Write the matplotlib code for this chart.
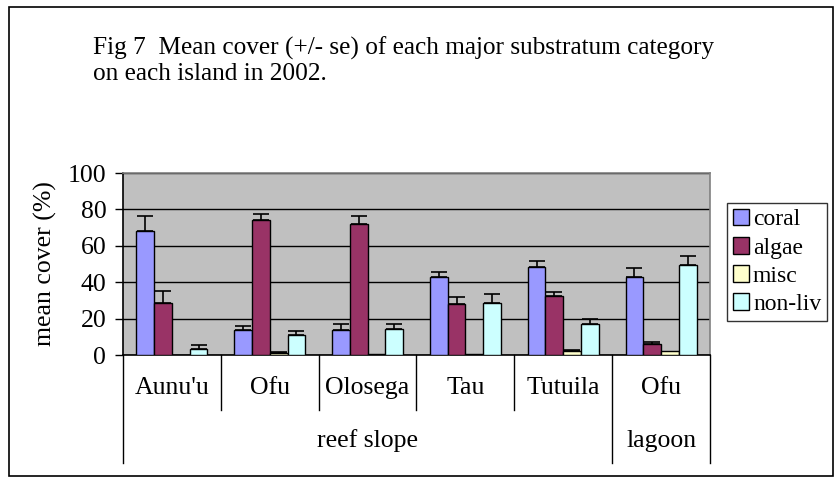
import matplotlib
matplotlib.use("Agg")
import matplotlib.pyplot as plt
from matplotlib.patches import Rectangle
from matplotlib.lines import Line2D
import matplotlib.transforms as mtransforms
import numpy as np

plt.rcParams['font.family'] = ['Liberation Serif', 'DejaVu Serif']

islands = ["Aunu'u", "Ofu", "Olosega", "Tau", "Tutuila", "Ofu"]
habitats = ["reef slope", "lagoon"]
habitat_spans = [5, 1]
series = ["coral", "algae", "misc", "non-liv"]
coral = [68, 13.7, 13.7, 43, 48.5, 43]
coral_se = [8.5, 2.1, 3.5, 2.8, 3.0, 4.9]
algae = [28.7, 74.2, 72.2, 28, 32.2, 6.3]
algae_se = [6.3, 3.5, 4.3, 3.6, 2.2, 0.8]
misc = [0, 1.2, 0.5, 0.5, 2.0, 2.3]
misc_se = [0, 0.6, 0, 0, 0.8, 0]
nonliv = [3.5, 10.9, 14.5, 28.7, 17.2, 49.3]
nonliv_se = [2.1, 2.1, 2.7, 4.9, 2.4, 5.2]
colors = ["#9999FF", "#993366", "#FFFFCC", "#CCFFFF"]
yticks = [0, 20, 40, 60, 80, 100]

W, H = 837, 483
FS = 18.5
fig = plt.figure(figsize=(W / 100, H / 100), dpi=100)

def fx(x):
    return x / W

def fy(y):
    return 1 - y / H

# outer frame
fig.patches.append(Rectangle((fx(9), fy(476)), fx(833) - fx(9), fy(7) - fy(476),
                             transform=fig.transFigure, fill=False, ec='black', lw=1.2))

fig.text(fx(93), fy(48), "Fig 7  Mean cover (+/- se) of each major substratum category",
         fontsize=18.2, va='center', ha='left')
fig.text(fx(93), fy(74), "on each island in 2002.", fontsize=18.2, va='center', ha='left')

L, R, T, B = 123, 710, 173, 355
ax = fig.add_axes([fx(L), fy(B), fx(R) - fx(L), fy(T) - fy(B)])
ax.set_facecolor("#C0C0C0")
ax.set_xlim(-0.5, len(islands) - 0.5)
ax.set_ylim(0, 100)

w = 1 / 5.5
x = np.arange(len(islands))
vals = [coral, algae, misc, nonliv]
ses = [coral_se, algae_se, misc_se, nonliv_se]
for i, (v, s, c, name) in enumerate(zip(vals, ses, colors, series)):
    pos = x + (i - 1.5) * w
    ax.bar(pos, v, width=w, color=c, edgecolor='black', lw=1.0, label=name, zorder=3)
    s = np.array(s)
    m = s > 0
    ax.errorbar(pos[m], np.array(v)[m], yerr=[np.zeros(m.sum()), s[m]], fmt='none',
                ecolor='black', elinewidth=1.2, capsize=5.5, capthick=1.2, zorder=4)

ax.set_yticks(yticks)
ax.set_yticklabels([str(t) for t in yticks], fontsize=FS)
ax.tick_params(axis='y', direction='out', length=6, width=1, pad=6)
ax.set_xticks([])
ax.yaxis.grid(True, color='black', lw=1)
ax.set_axisbelow(True)
for sp in ['top', 'right']:
    ax.spines[sp].set_color('#808080')
    ax.spines[sp].set_linewidth(1.2)
ax.spines['left'].set_linewidth(1.2)
ax.spines['bottom'].set_linewidth(1.2)

ax.set_ylabel("mean cover (%)", fontsize=FS, labelpad=8)

# category axis labels
trans = mtransforms.blended_transform_factory(ax.transData, fig.transFigure)
for i, name in enumerate(islands):
    ax.text(i, fy(388), name, transform=trans, ha='center', va='center', fontsize=FS)
for b in range(len(islands) + 1):
    xb = b - 0.5
    long_line = b in (0, 5, 6)
    ybot = fy(463) if long_line else fy(410)
    fig.add_artist(Line2D([xb, xb], [fy(B), ybot], transform=trans, color='black', lw=1))
start = 0
for hname, span in zip(habitats, habitat_spans):
    center = start + span / 2 - 0.5
    ax.text(center, fy(441), hname, transform=trans, ha='center', va='center', fontsize=FS)
    start += span

# legend
leg = ax.legend(loc='upper left', bbox_to_anchor=(fx(727), fy(203)),
                bbox_transform=fig.transFigure, fontsize=17, frameon=True,
                fancybox=False, edgecolor='black', handlelength=0.7, handleheight=0.7,
                handletextpad=0.15, labelspacing=0.28, borderpad=0.25, borderaxespad=0)
leg.get_frame().set_linewidth(1.0)

fig.savefig("out.png", dpi=100)
